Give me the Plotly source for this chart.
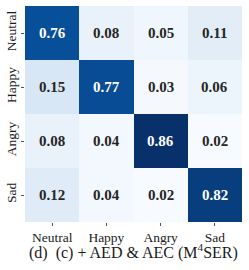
import plotly.graph_objects as go

labels = ["Neutral", "Happy", "Angry", "Sad"]
values = [
    [0.76, 0.08, 0.05, 0.11],
    [0.15, 0.77, 0.03, 0.06],
    [0.08, 0.04, 0.86, 0.02],
    [0.12, 0.04, 0.02, 0.82],
]
caption = "(d)&nbsp; (c) + AED &amp; AEC (M<sup>4</sup>SER)"

blues = [
    [0.0, "#f7fbff"], [0.125, "#deebf7"], [0.25, "#c6dbef"], [0.375, "#9ecae1"],
    [0.5, "#6baed6"], [0.625, "#4292c6"], [0.75, "#2171b5"], [0.875, "#08519c"],
    [1.0, "#08306b"],
]
flat = [v for row in values for v in row]
zmin, zmax = min(flat), max(flat)

fig = go.Figure(go.Heatmap(
    z=values, x=labels, y=labels, colorscale=blues, zmin=zmin, zmax=zmax,
    showscale=False, hoverinfo="skip",
))

font = "Liberation Serif"
for i, row in enumerate(values):
    for j, v in enumerate(row):
        frac = (v - zmin) / (zmax - zmin)
        fig.add_annotation(
            x=labels[j], y=labels[i], text="<b>%.2f</b>" % v, showarrow=False,
            font=dict(family=font, size=15, color="#ffffff" if frac > 0.6 else "#262626"),
        )

fig.add_annotation(
    x=0.5, y=0, xref="paper", yref="paper", yanchor="middle", yshift=-29,
    text=caption, showarrow=False, font=dict(family=font, size=16, color="#1a1a1a"),
)

fig.update_xaxes(ticks="outside", ticklen=3, tickcolor="#555555", showgrid=False,
                 automargin=False,
                 tickfont=dict(family=font, size=13.5, color="#1a1a1a"), zeroline=False)
fig.update_yaxes(ticks="outside", ticklen=3, tickcolor="#555555", showgrid=False,
                 automargin=False, autorange="reversed", tickangle=-90,
                 tickfont=dict(family=font, size=13.5, color="#1a1a1a"), zeroline=False)

fig.update_layout(
    width=249, height=270, margin=dict(l=25, r=7, t=6, b=48),
    paper_bgcolor="white", plot_bgcolor="white",
    font=dict(family=font),
)
fig.write_html("out.html", config={"displayModeBar": False},
               post_script="document.body.style.margin='0';document.body.style.padding='0';")
